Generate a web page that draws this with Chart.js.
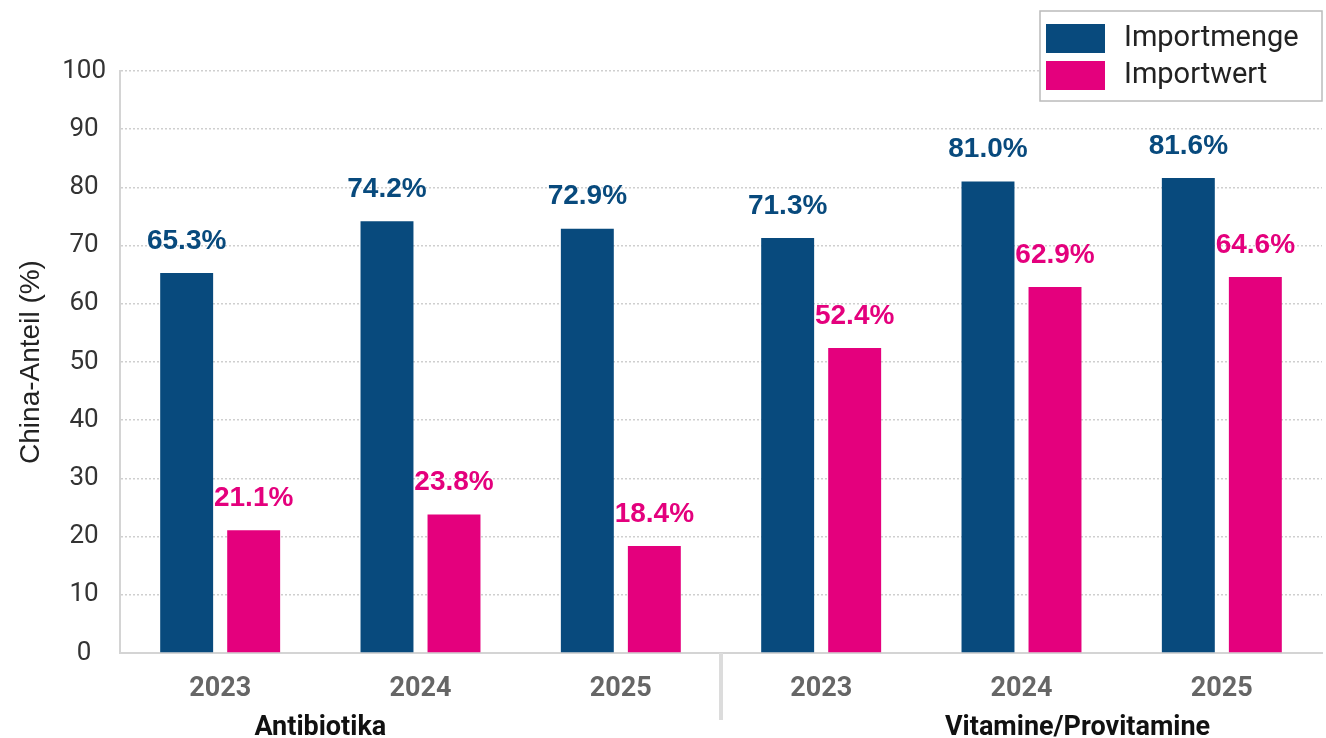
<!DOCTYPE html>
<html>
<head>
<meta charset="utf-8">
<script src="https://cdn.jsdelivr.net/npm/chart.js@4.4.1/dist/chart.umd.min.js"></script>
<style>
  html, body { margin: 0; padding: 0; background: #fff; }
  #chart { display: block; }
</style>
</head>
<body>
<canvas id="chart" width="1326" height="738"></canvas>
<script>
// China-Anteil an Importen, je Jahr und Warengruppe
const years = ['2023', '2024', '2025', '2023', '2024', '2025'];
const groups = ['Antibiotika', 'Vitamine/Provitamine'];
const groupPos = [0.5, 4.28]; // where the group caption sits on the category axis
const importmenge = [65.3, 74.2, 72.9, 71.3, 81.0, 81.6];
const importwert = [21.1, 23.8, 18.4, 52.4, 62.9, 64.6];
const seriesNames = ['Importmenge', 'Importwert'];
const yTicks = [0, 10, 20, 30, 40, 50, 60, 70, 80, 90, 100];

const blue = '#084a7d';
const pink = '#e4007d';

// value labels above the bars
const valueLabels = {
  id: 'valueLabels',
  afterDatasetsDraw(chart) {
    const ctx = chart.ctx;
    ctx.save();
    ctx.font = 'bold 28px "Liberation Sans", Arial, sans-serif';
    ctx.textAlign = 'center';
    ctx.textBaseline = 'middle';
    chart.data.datasets.forEach((ds, i) => {
      const meta = chart.getDatasetMeta(i);
      ctx.fillStyle = ds.backgroundColor;
      meta.data.forEach((bar, j) => {
        ctx.fillText(ds.data[j].toFixed(1) + '%', bar.x, bar.y - 32);
      });
    });
    ctx.restore();
  }
};

// group captions + divider under the category axis
const groupAxis = {
  id: 'groupAxis',
  afterDraw(chart) {
    const ctx = chart.ctx;
    const x = chart.scales.x;
    const bottom = chart.chartArea.bottom;
    ctx.save();
    ctx.strokeStyle = '#dcdcdc';
    ctx.lineWidth = 4;
    const sx = x.getPixelForValue(2.5);
    ctx.beginPath();
    ctx.moveTo(sx, bottom);
    ctx.lineTo(sx, bottom + 67);
    ctx.stroke();

    ctx.fillStyle = '#111';
    ctx.font = 'bold 27px Roboto, sans-serif';
    ctx.textAlign = 'center';
    ctx.textBaseline = 'alphabetic';
    groups.forEach((g, i) => {
      ctx.fillText(g, x.getPixelForValue(groupPos[i]), bottom + 82);
    });
    ctx.restore();
  }
};

// boxed legend in the top right corner
const boxLegend = {
  id: 'boxLegend',
  afterDraw(chart) {
    const ctx = chart.ctx;
    const right = chart.chartArea.right;
    const left = right - 282;
    ctx.save();
    ctx.fillStyle = '#fff';
    ctx.fillRect(left, 11, 282, 90);
    ctx.strokeStyle = '#bbb';
    ctx.lineWidth = 1.5;
    ctx.strokeRect(left, 11, 282, 90);
    ctx.font = '29px Roboto, sans-serif';
    ctx.textBaseline = 'middle';
    ctx.textAlign = 'left';
    chart.data.datasets.forEach((ds, i) => {
      const y = 24 + i * 37;
      ctx.fillStyle = ds.backgroundColor;
      ctx.fillRect(left + 6, y, 59, 29);
      ctx.fillStyle = '#222';
      ctx.fillText(ds.label, left + 84, y + 15);
    });
    ctx.restore();
  }
};

const ctx = document.getElementById('chart').getContext('2d');
const myChart = new Chart(ctx, {
  type: 'bar',
  data: {
    labels: years,
    datasets: [{
      label: seriesNames[0],
      data: importmenge,
      backgroundColor: blue,
      borderWidth: 0
    }, {
      label: seriesNames[1],
      data: importwert,
      backgroundColor: pink,
      borderWidth: 0
    }]
  },
  options: {
    responsive: false,
    animation: false,
    categoryPercentage: 0.669,
    barPercentage: 0.79,
    layout: {
      padding: { top: 71, right: 4, left: 0, bottom: 0 }
    },
    plugins: {
      legend: { display: false },
      tooltip: { enabled: false }
    },
    scales: {
      x: {
        grid: { display: false, drawTicks: false },
        border: { display: true, color: '#d4d4d4', width: 2 },
        ticks: {
          color: '#666',
          font: { family: 'Roboto', weight: 'bold', size: 27 },
          padding: 20,
          maxRotation: 0
        },
        afterFit(scale) { scale.height = 85; }
      },
      y: {
        min: 0,
        max: 100,
        afterBuildTicks(scale) {
          scale.ticks = yTicks.map(v => ({ value: v }));
        },
        grid: {
          color: '#cfcfcf',
          lineWidth: 1.5,
          drawTicks: false
        },
        border: { display: true, color: '#d4d4d4', width: 2, dash: [2, 2] },
        ticks: {
          color: '#333',
          crossAlign: 'center',
          font: { family: 'Roboto', size: 26 },
          padding: 14
        },
        title: {
          display: true,
          text: 'China-Anteil (%)',
          color: '#222',
          font: { family: '"Liberation Sans", Arial, sans-serif', size: 28 },
          padding: { top: 14, bottom: 0 }
        },
        afterFit(scale) { scale.width = 120; }
      }
    }
  },
  plugins: [valueLabels, groupAxis, boxLegend]
});
</script>
</body>
</html>
